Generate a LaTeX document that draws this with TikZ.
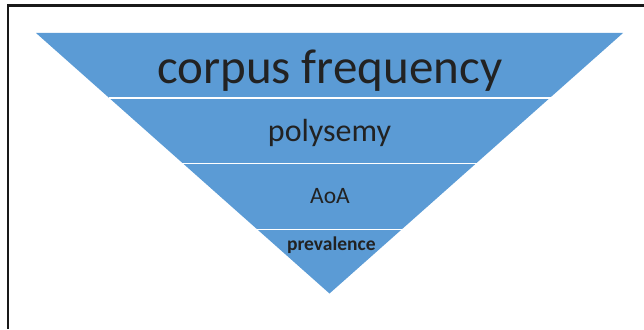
\documentclass[tikz,border=0pt]{standalone}
\usepackage{fontspec}
\setmainfont{Carlito}
\usepackage{tikz}
\usetikzlibrary{positioning}
\definecolor{tierblue}{HTML}{5B9BD5}
\definecolor{inkgray}{HTML}{222222}

\begin{document}
\begin{tikzpicture}[x=1pt, y=-1pt,
  tier/.style={fill=tierblue, draw=none},
  divider/.style={white, line width=1.6pt},
  tiertext/.style={anchor=base, text=inkgray, inner sep=0pt},
  border/.style={line width=2.2pt, draw=black!90}
]
  \useasboundingbox (0,0) rectangle (644,329);

  %--- Frame ---
  \draw[border] (644,5.5) -- (8,5.5) -- (8,329);

  %--- Inverted triangle ---
  \coordinate (tl) at (36,33);
  \coordinate (tr) at (623,33);
  \coordinate (tip) at (329.5,293.5);
  \fill[tier] (tl) -- (tr) -- (tip) -- cycle;

  % Dividers between tiers
  \draw[divider] (108.5,98) -- (550.5,98);
  \draw[divider] (182,163.5) -- (477,163.5);
  \draw[divider] (256.5,229.5) -- (402.5,229.5);

  %--- Tier labels ---
  \node[tiertext, font=\fontsize{49}{55}\selectfont] (freq) at (329.7,83) {corpus frequency};
  \node[tiertext, font=\fontsize{32}{38}\selectfont] (poly) at (329.5,141.5) {polysemy};
  \node[tiertext, font=\fontsize{23.5}{28}\selectfont] (aoa) at (330,203) {AoA};
  \node[tiertext, font=\fontsize{19.5}{23}\selectfont\bfseries] (prev) at (331.3,250.5) {prevalence};

\end{tikzpicture}
\end{document}
